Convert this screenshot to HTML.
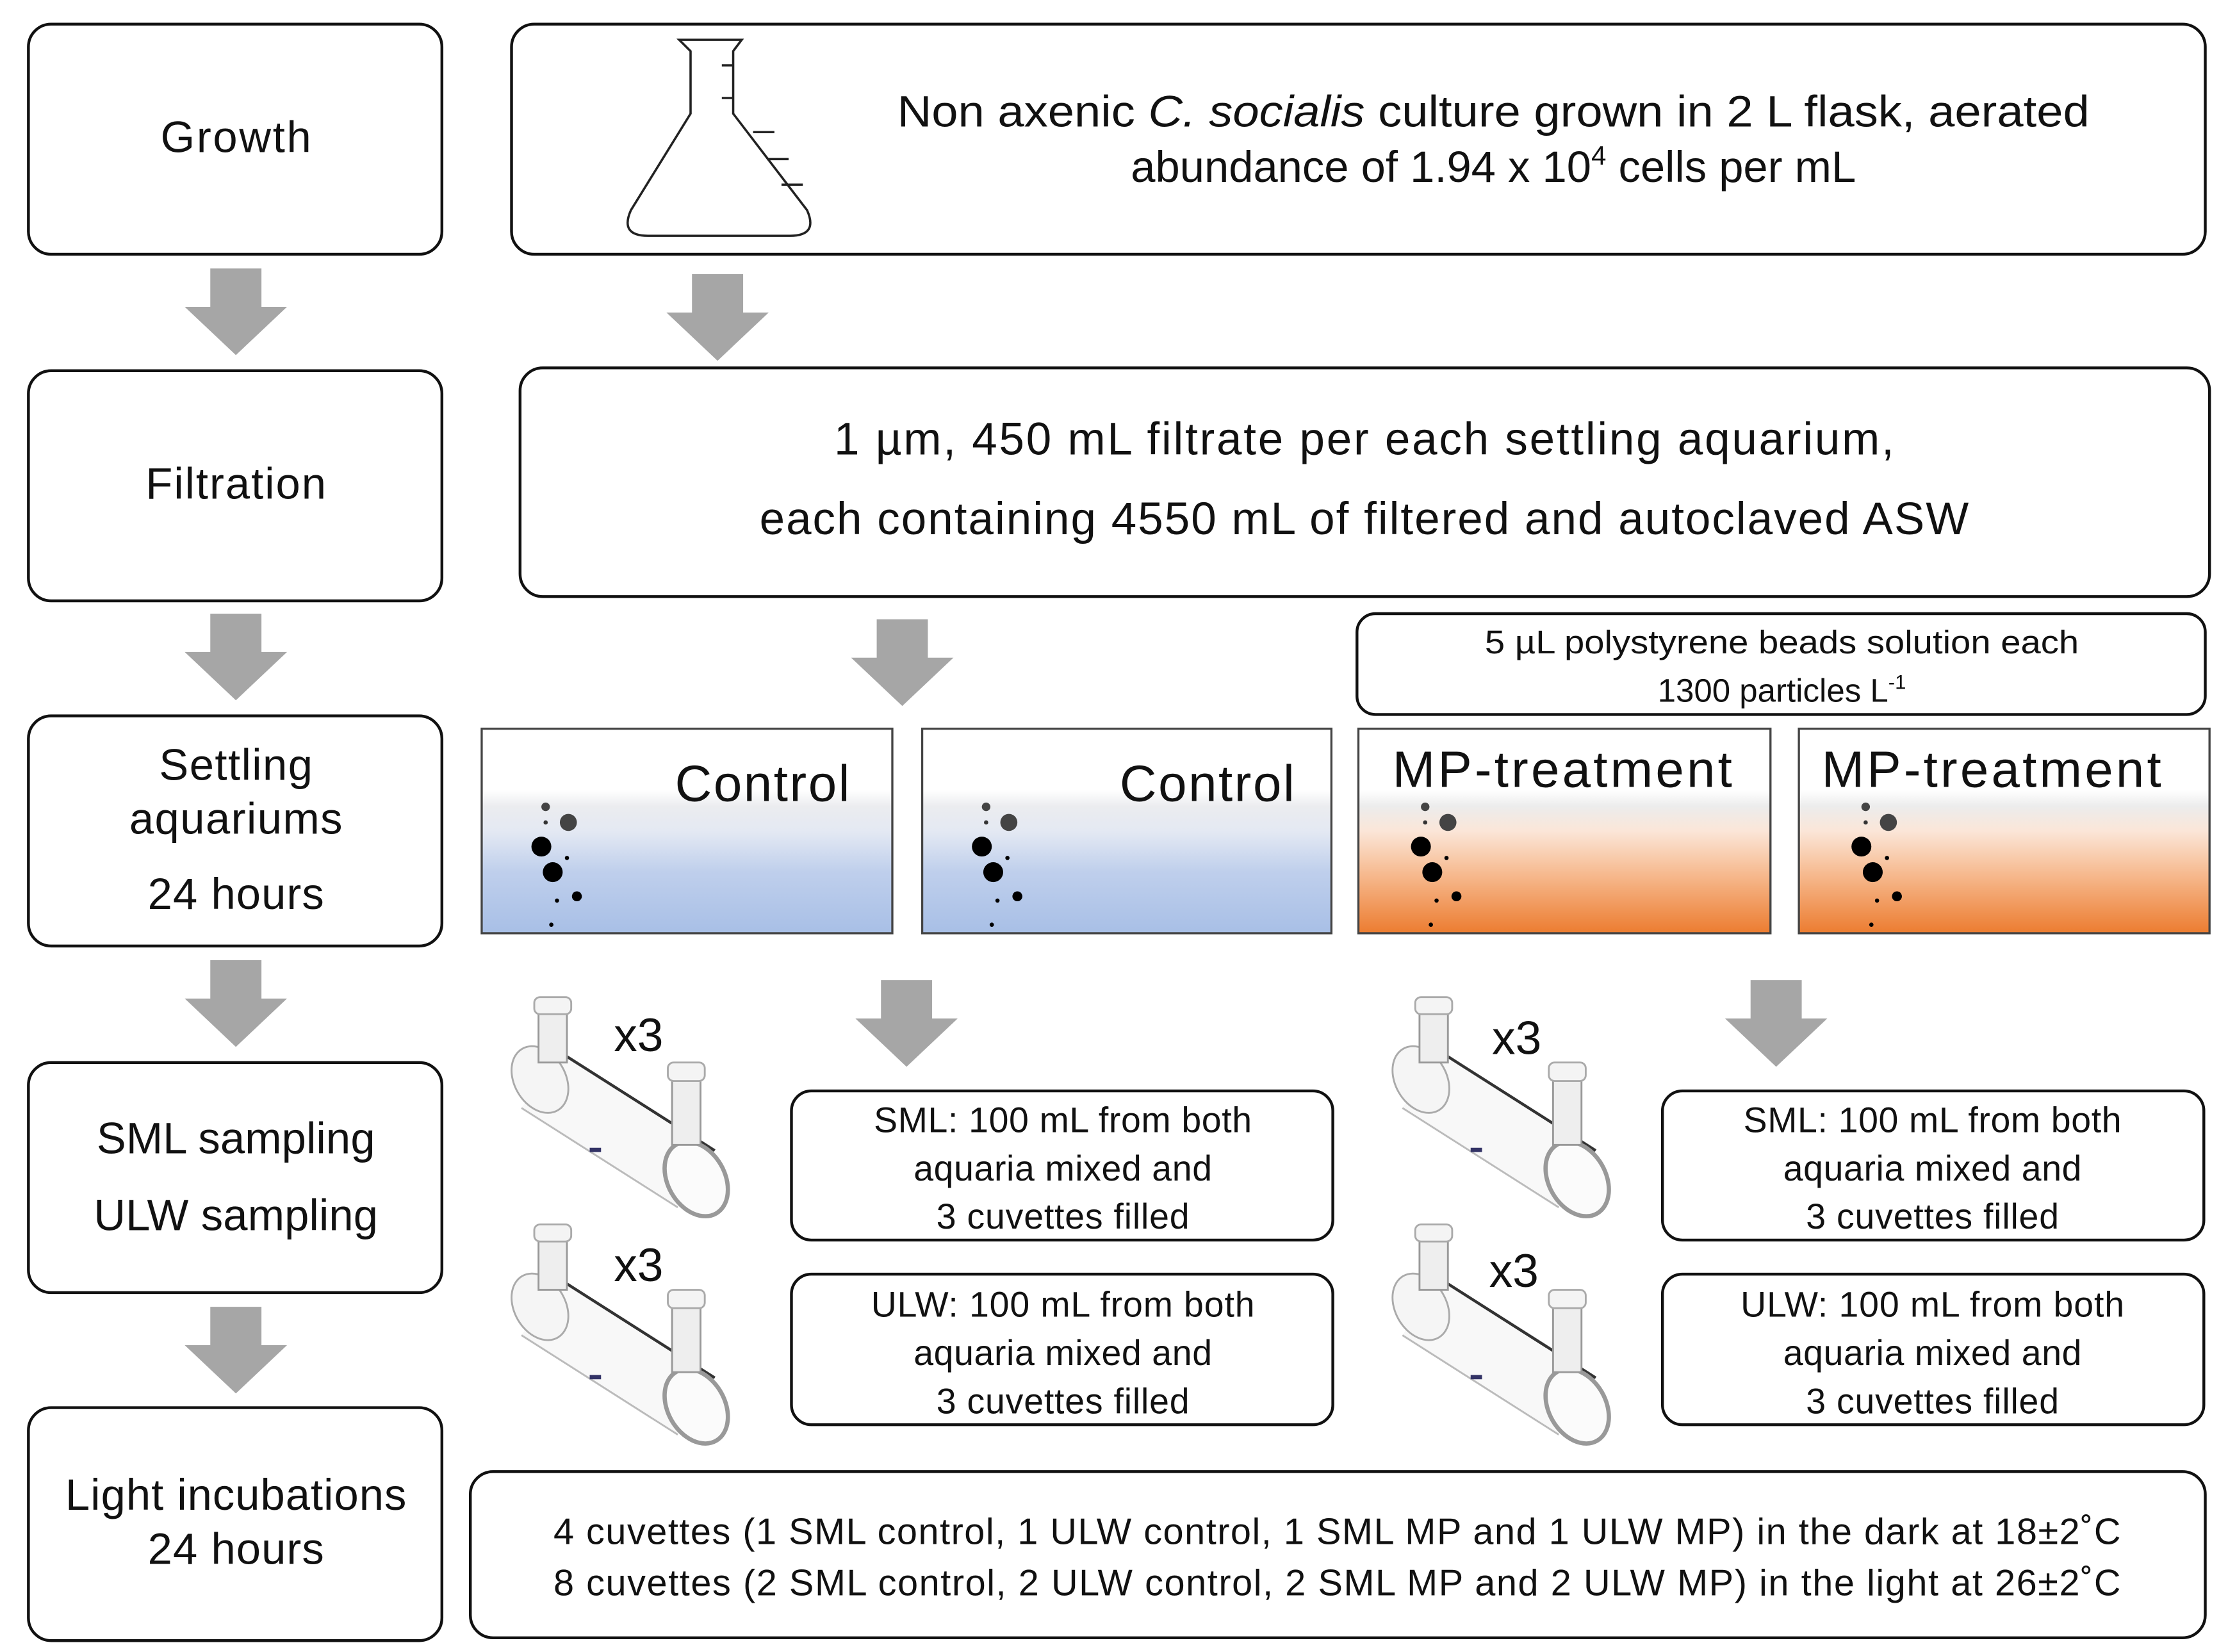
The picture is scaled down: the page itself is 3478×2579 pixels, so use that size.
<!DOCTYPE html>
<html><head><meta charset="utf-8">
<style>
html,body{margin:0;padding:0;background:#fff;}
svg{display:block;}
text{font-family:"Liberation Sans",sans-serif;fill:#111;}
</style></head>
<body>
<svg width="3478" height="2579" viewBox="0 0 1568 1163" preserveAspectRatio="none" xmlns="http://www.w3.org/2000/svg">
<defs>
<linearGradient id="blue" x1="0" y1="0" x2="0" y2="1">
<stop offset="0" stop-color="#ffffff"/><stop offset="0.3" stop-color="#ffffff"/>
<stop offset="0.38" stop-color="#ebecef"/><stop offset="0.5" stop-color="#e4e9f3"/>
<stop offset="0.7" stop-color="#bfcfec"/><stop offset="1" stop-color="#a8bfe6"/></linearGradient>
<linearGradient id="orange" x1="0" y1="0" x2="0" y2="1">
<stop offset="0" stop-color="#ffffff"/><stop offset="0.3" stop-color="#ffffff"/>
<stop offset="0.38" stop-color="#ececec"/><stop offset="0.5" stop-color="#fbe6d8"/>
<stop offset="0.72" stop-color="#f6b88c"/><stop offset="1" stop-color="#ec7c30"/></linearGradient>
<g id="bub">
<circle cx="45" cy="55" r="3" fill="#444"/><circle cx="61" cy="66" r="6" fill="#444"/>
<circle cx="45" cy="66" r="1.5" fill="#333"/>
<circle cx="42" cy="83" r="7" fill="#000"/><circle cx="60" cy="91" r="1.5" fill="#000"/>
<circle cx="50" cy="101" r="7" fill="#000"/><circle cx="67" cy="118" r="3.5" fill="#000"/>
<circle cx="53" cy="121" r="1.5" fill="#000"/><circle cx="49" cy="138" r="1.5" fill="#000"/>
</g>
<g id="arr"><path d="M-18,0 H18 V27 H36 L0,61 L-36,27 H-18 Z" fill="#a6a6a6"/></g>
<g id="cuv" fill="none" stroke="#888" stroke-width="1.3">
<path d="M38,30 L148,100 L122,140 L12,70 Z" fill="#f8f8f8" stroke="none"/>
<ellipse cx="25" cy="50" rx="18" ry="25" transform="rotate(-30 25 50)" fill="#f5f5f5" stroke="#aaa"/>
<path d="M38,30 L148,100" stroke="#333" stroke-width="2"/>
<path d="M12,70 L122,140" stroke="#bbb"/>
<ellipse cx="135" cy="120" rx="20" ry="28" transform="rotate(-30 135 120)" fill="#fbfbfb" stroke="#999" stroke-width="3"/>
<rect x="24" y="0" width="20" height="38" fill="#eee" stroke="#999"/>
<rect x="21" y="-8" width="26" height="12" rx="4" fill="#f4f4f4" stroke="#aaa"/>
<rect x="118" y="48" width="20" height="48" fill="#eee" stroke="#999"/>
<rect x="115" y="38" width="26" height="13" rx="4" fill="#f4f4f4" stroke="#aaa"/>
<rect x="60" y="98" width="8" height="3" fill="#336" stroke="none"/>
</g>
</defs>
<rect width="1568" height="1163" fill="#fff"/>
<g fill="none" stroke="#111" stroke-width="2">
<rect x="20" y="17" width="291" height="162" rx="16"/>
<rect x="20" y="261" width="291" height="162" rx="16"/>
<rect x="20" y="504" width="291" height="162" rx="16"/>
<rect x="20" y="748" width="291" height="162" rx="16"/>
<rect x="20" y="991" width="291" height="164" rx="16"/>
<rect x="360" y="17" width="1192" height="162" rx="16"/>
<rect x="366" y="259" width="1189" height="161" rx="16"/>
<rect x="955" y="432" width="597" height="71" rx="13"/>
<rect x="557" y="768" width="381" height="105" rx="14"/>
<rect x="557" y="897" width="381" height="106" rx="14"/>
<rect x="1170" y="768" width="381" height="105" rx="14"/>
<rect x="1170" y="897" width="381" height="106" rx="14"/>
<rect x="331" y="1036" width="1221" height="117" rx="16"/>
</g>
<g font-size="31" text-anchor="middle" lengthAdjust="spacingAndGlyphs">
<text x="166" y="107" textLength="106">Growth</text>
<text x="166" y="351" textLength="127">Filtration</text>
<text x="166" y="549" textLength="108">Settling</text>
<text x="166" y="587" textLength="150">aquariums</text>
<text x="166" y="640" textLength="124">24 hours</text>
<text x="166" y="812" textLength="196">SML sampling</text>
<text x="166" y="866" textLength="200">ULW sampling</text>
<text x="166" y="1063" textLength="240">Light incubations</text>
<text x="166" y="1101" textLength="124">24 hours</text>
</g>
<use href="#arr" x="166" y="189"/><use href="#arr" x="166" y="432"/>
<use href="#arr" x="166" y="676"/><use href="#arr" x="166" y="920"/>
<use href="#arr" x="505" y="193"/><use href="#arr" x="635" y="436"/>
<use href="#arr" x="638" y="690"/><use href="#arr" x="1250" y="690"/>
<path d="M478,28 H522 L516,36 V80 L568,148 Q576,166 556,166 H456 Q436,166 444,148 L486,80 V36 Z" fill="none" stroke="#222" stroke-width="1.6"/>
<g stroke="#222" stroke-width="1.6"><path d="M508,46 H516 M508,69 H516 M530,93 H545 M540,112 H555 M550,130 H565"/></g>
<g font-size="31" text-anchor="middle">
<text x="1051" y="89" textLength="839" lengthAdjust="spacingAndGlyphs">Non axenic <tspan font-style="italic">C. socialis</tspan> culture grown in 2 L flask, aerated</text>
<text x="1051" y="128">abundance of 1.94 x 10<tspan font-size="19" dy="-12">4</tspan><tspan dy="12"> cells per mL</tspan></text>
</g>
<g font-size="32" text-anchor="middle" lengthAdjust="spacingAndGlyphs">
<text x="960" y="320" textLength="746">1 µm,  450 mL filtrate per each settling aquarium,</text>
<text x="960" y="376" textLength="851">each containing 4550 mL of filtered and autoclaved ASW</text>
</g>
<g font-size="23" text-anchor="middle">
<text x="1254" y="460" textLength="418" lengthAdjust="spacingAndGlyphs">5 µL polystyrene beads solution each</text>
<text x="1254" y="494">1300 particles L<tspan font-size="14" dy="-9">-1</tspan></text>
</g>
<g stroke="#444" stroke-width="1.5">
<rect x="339" y="513" width="289" height="144" fill="url(#blue)"/>
<rect x="649" y="513" width="288" height="144" fill="url(#blue)"/>
<rect x="956" y="513" width="290" height="144" fill="url(#orange)"/>
<rect x="1266" y="513" width="289" height="144" fill="url(#orange)"/>
</g>
<use href="#bub" x="339" y="513"/><use href="#bub" x="649" y="513"/>
<use href="#bub" x="958" y="513"/><use href="#bub" x="1268" y="513"/>
<g font-size="36" lengthAdjust="spacingAndGlyphs">
<text x="475" y="564" textLength="123">Control</text>
<text x="788" y="564" textLength="123">Control</text>
<text x="980" y="554" textLength="239">MP-treatment</text>
<text x="1282" y="554" textLength="239">MP-treatment</text>
</g>
<use href="#cuv" x="355" y="710"/><use href="#cuv" x="355" y="870"/>
<use href="#cuv" x="975" y="710"/><use href="#cuv" x="975" y="870"/>
<g font-size="33">
<text x="432" y="740">x3</text><text x="432" y="902">x3</text>
<text x="1050" y="742">x3</text><text x="1048" y="906">x3</text>
</g>
<g font-size="25" text-anchor="middle" lengthAdjust="spacingAndGlyphs">
<text x="748" y="797" textLength="266">SML: 100 mL from both</text>
<text x="748" y="831" textLength="210">aquaria mixed and</text>
<text x="748" y="865" textLength="178">3 cuvettes filled</text>
<text x="748" y="927" textLength="270">ULW: 100 mL from both</text>
<text x="748" y="961" textLength="210">aquaria mixed and</text>
<text x="748" y="995" textLength="178">3 cuvettes filled</text>
<text x="1360" y="797" textLength="266">SML: 100 mL from both</text>
<text x="1360" y="831" textLength="210">aquaria mixed and</text>
<text x="1360" y="865" textLength="178">3 cuvettes filled</text>
<text x="1360" y="927" textLength="270">ULW: 100 mL from both</text>
<text x="1360" y="961" textLength="210">aquaria mixed and</text>
<text x="1360" y="995" textLength="178">3 cuvettes filled</text>
</g>
<g font-size="26" text-anchor="middle" lengthAdjust="spacingAndGlyphs">
<text x="941" y="1087" textLength="1103">4 cuvettes (1 SML control, 1 ULW control, 1 SML MP and 1 ULW MP) in the dark at 18±2˚C</text>
<text x="941" y="1123" textLength="1103">8 cuvettes (2 SML control, 2 ULW control, 2 SML MP and 2 ULW MP) in the light at 26±2˚C</text>
</g>
</svg>
</body></html>
